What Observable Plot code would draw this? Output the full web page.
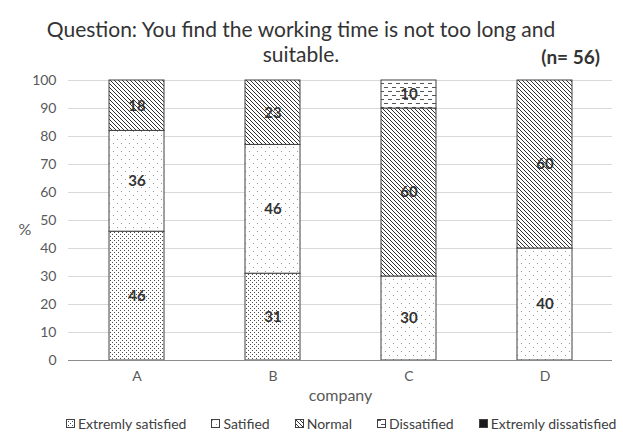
<!DOCTYPE html>
<html>
<head>
<meta charset="utf-8">
<script src="https://cdn.jsdelivr.net/npm/d3@7"></script>
<script src="https://cdn.jsdelivr.net/npm/@observablehq/plot@0.6"></script>
<style>
  body { margin: 0; background: #fff; font-family: Lato, "Open Sans", sans-serif; }
  #wrap { width: 623px; height: 437px; position: relative; overflow: hidden; }
  #title { position: relative; height: 70px; }
  #t1 { position: absolute; left: 0; width: 602px; top: 16px; text-align: center; font-size: 21px; line-height: 25px; color: #333; }
  #nlab { position: absolute; right: 23px; top: 46px; font-size: 19px; line-height: 22px; font-weight: bold; color: #333; }
  #legend { height: 27px; display: flex; justify-content: flex-start; align-items: center; gap: 25px; font-size: 14px; color: #404040; padding-left: 66px; }
  #legend .item { display: flex; align-items: center; gap: 3px; }
  #legend svg { display: block; }
</style>
</head>
<body>
<svg width="0" height="0" style="position:absolute">
  <defs>
    <pattern id="pES" width="4" height="4" patternUnits="userSpaceOnUse">
      <rect width="4" height="4" fill="#fff"/>
      <rect x="0" y="0" width="1" height="1" fill="#4a4a4a"/>
      <rect x="2" y="2" width="1" height="1" fill="#4a4a4a"/>
    </pattern>
    <pattern id="pS" width="8" height="8" patternUnits="userSpaceOnUse">
      <rect width="8" height="8" fill="#fff"/>
      <rect x="1" y="1" width="1" height="1" fill="#999"/>
      <rect x="5" y="5" width="1" height="1" fill="#999"/>
    </pattern>
    <pattern id="pN" width="4" height="4" patternUnits="userSpaceOnUse">
      <rect width="4" height="4" fill="#fff"/>
      <path d="M0,0L4,4M-1,3L1,5M3,-1L5,1" stroke="#333" stroke-width="1"/>
    </pattern>
    <pattern id="pD" width="8" height="8" patternUnits="userSpaceOnUse">
      <rect width="8" height="8" fill="#fff"/>
      <rect x="0" y="1" width="4" height="1" fill="#555"/>
      <rect x="4" y="5" width="4" height="1" fill="#555"/>
    </pattern>
    <pattern id="pED" width="4" height="4" patternUnits="userSpaceOnUse">
      <rect width="4" height="4" fill="#1a1a1a"/>
    </pattern>
  </defs>
</svg>
<div id="wrap">
  <div id="title">
    <div id="t1">Question: You find the working time is not too long and<br>suitable.</div>
    <div id="nlab">(n= 56)</div>
  </div>
  <div id="chart"></div>
  <div id="legend"></div>
</div>
<script>
const companies = ["A", "B", "C", "D"];
const seriesNames = ["Extremly satisfied", "Satified", "Normal", "Dissatified", "Extremly dissatisfied"];
const extremelySatisfied = [46, 31, 0, 0];
const satisfied = [36, 46, 30, 40];
const normal = [18, 23, 60, 60];
const dissatisfied = [0, 0, 10, 0];
const extremelyDissatisfied = [0, 0, 0, 0];
const yTicks = [0, 10, 20, 30, 40, 50, 60, 70, 80, 90, 100];
const patternIds = ["url(#pES)", "url(#pS)", "url(#pN)", "url(#pD)", "url(#pED)"];

const seriesValues = [extremelySatisfied, satisfied, normal, dissatisfied, extremelyDissatisfied];
const rows = [];
companies.forEach((c, i) => {
  seriesNames.forEach((s, j) => {
    rows.push({company: c, series: s, value: seriesValues[j][i]});
  });
});
const labelRows = rows.filter(d => d.value > 0);

const chart = Plot.plot({
  width: 623,
  height: 340,
  marginTop: 10,
  marginBottom: 50,
  marginLeft: 68,
  marginRight: 11,
  style: {fontFamily: "Lato, 'Open Sans', sans-serif", fontSize: "14px", color: "#595959", background: "#fff"},
  x: {domain: companies, paddingInner: 0.596, paddingOuter: 0.298, label: null},
  y: {domain: [0, 100], label: null},
  color: {domain: seriesNames, range: patternIds, type: "ordinal"},
  marks: [
    Plot.ruleY(yTicks.filter(t => t > 0), {stroke: "#d9d9d9", strokeWidth: 1}),
    Plot.axisY(yTicks, {tickSize: 0, tickPadding: 12, label: null, fontSize: 14, fill: "#595959"}),
    Plot.axisX({tickSize: 0, tickPadding: 11, label: null, fontSize: 14, fill: "#595959"}),
    Plot.barY(rows.filter(d => d.value > 0), Plot.stackY({x: "company", y: "value", z: "series", fill: "series", stroke: "#404040", strokeWidth: 1})),
    Plot.ruleY([0], {stroke: "#8c8c8c", strokeWidth: 1.2}),
    Plot.text(labelRows, Plot.stackY({x: "company", y: "value", z: "series", text: d => String(d.value), fontWeight: "bold", fontSize: 15, fill: "#333"})),
    Plot.text(["%"], {frameAnchor: "left", dx: -50, dy: 9, fontSize: 16, fill: "#595959"}),
    Plot.text(["company"], {frameAnchor: "bottom", dy: 40, fontSize: 16, fill: "#595959"})
  ]
});
document.getElementById("chart").appendChild(chart);

const legend = document.getElementById("legend");
seriesNames.forEach((s, j) => {
  const item = document.createElement("div");
  item.className = "item";
  item.innerHTML = `<svg width="9" height="9"><rect x="0.5" y="0.5" width="8" height="8" fill="${patternIds[j]}" stroke="#404040" stroke-width="1"/></svg><span>${s}</span>`;
  legend.appendChild(item);
});
</script>
</body>
</html>
